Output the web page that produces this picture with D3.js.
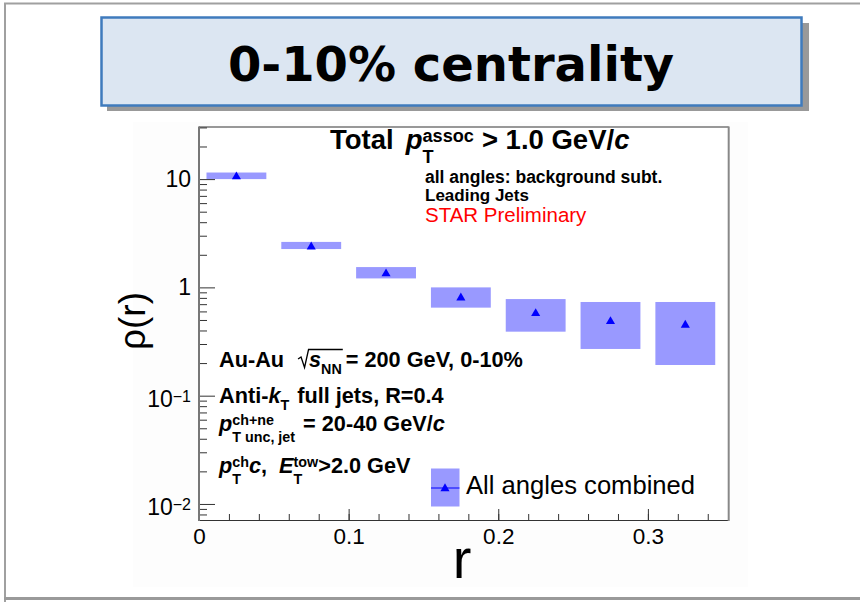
<!DOCTYPE html>
<html>
<head>
<meta charset="utf-8">
<script src="https://cdn.jsdelivr.net/npm/d3@7/dist/d3.min.js"></script>
<style>
  html, body { margin: 0; padding: 0; background: #fff; }
  svg { display: block; }
  text { font-family: "Liberation Sans", Arial, Helvetica, sans-serif; }
</style>
</head>
<body>
<svg id="chart" width="860" height="602"></svg>
<script>
// Jet shape rho(r), 0-10% central Au-Au, all angles combined
const rCenters   = [0.025, 0.075, 0.125, 0.175, 0.225, 0.275, 0.325];
const rhoValues  = [10.7, 2.41, 1.36, 0.815, 0.584, 0.493, 0.456];
const sysLow     = [10.0, 2.26, 1.21, 0.65, 0.39, 0.27, 0.192];
const sysHigh    = [11.5, 2.63, 1.54, 1.00, 0.78, 0.733, 0.733];
const sysHalfWidth = 0.02;

const xTicks = [0, 0.1, 0.2, 0.3];
const xTickLabels = ["0", "0.1", "0.2", "0.3"];
const yTicks = [0.01, 0.1, 1, 10];
const yTickLabels = [["10", "\u22122"], ["10", "\u22121"], ["1", ""], ["10", ""]];

const svg = d3.select("#chart");

// canvas border
svg.append("path").attr("d", "M5,602 L5,3.5 L862,3.5")
  .attr("fill", "none").attr("stroke", "#a0a0a0").attr("stroke-width", 2);
svg.append("line").attr("x1", 4).attr("x2", 862).attr("y1", 598.5).attr("y2", 598.5)
  .attr("stroke", "#9a9a9a").attr("stroke-width", 3);

// title banner with drop shadow
svg.append("rect").attr("x", 107).attr("y", 23).attr("width", 702).attr("height", 88)
  .attr("fill", "#999");
svg.append("rect").attr("x", 101.5).attr("y", 17.5).attr("width", 700).attr("height", 88)
  .attr("fill", "#dce6f2").attr("stroke", "#3f7bbd").attr("stroke-width", 2.5);
svg.append("text").attr("x", 451).attr("y", 81).attr("text-anchor", "middle")
  .style("font-family", "'DejaVu Sans', Verdana, sans-serif")
  .style("font-weight", "bold").style("font-size", "48px").attr("fill", "#000")
  .text("0-10% centrality");

// pad background
svg.append("rect").attr("x", 133).attr("y", 122).attr("width", 615).attr("height", 465)
  .attr("fill", "#fdfdfd");

const x = d3.scaleLinear().domain([0, 0.354]).range([199, 728.7]);
const y = d3.scaleLog().domain([0.00711, 30.6]).range([520, 126.5]);

svg.append("rect").attr("x", x(0)).attr("y", y.range()[1])
  .attr("width", x.range()[1] - x(0)).attr("height", y.range()[0] - y.range()[1])
  .attr("fill", "#fff");

// systematic boxes
const pts = rCenters.map((r, i) => ({ r, v: rhoValues[i], lo: sysLow[i], hi: sysHigh[i] }));
svg.append("g").selectAll("rect").data(pts).join("rect")
  .attr("x", d => x(d.r - sysHalfWidth))
  .attr("width", d => x(d.r + sysHalfWidth) - x(d.r - sysHalfWidth))
  .attr("y", d => y(d.hi))
  .attr("height", d => y(d.lo) - y(d.hi))
  .attr("fill", "#9999ff");

// markers
const tri = d3.symbol().type(d3.symbolTriangle).size(36);
svg.append("g").selectAll("path").data(pts).join("path")
  .attr("transform", d => `translate(${x(d.r)},${y(d.v) + 0.8})`)
  .attr("d", tri).attr("fill", "#0000ff");

// axes
const axisColor = "#333";
const xMajor = d3.axisBottom(x).tickValues(xTicks).tickSize(-11).tickPadding(8)
  .tickFormat((d, i) => xTickLabels[i]);
const xMinor = d3.axisBottom(x).tickValues(d3.range(0, 0.35, 0.02)).tickSize(-6).tickFormat("");
const gx = svg.append("g").attr("transform", `translate(0,${y.range()[0]})`);
gx.call(xMinor);
gx.append("g").call(xMajor);
gx.selectAll(".domain").remove();
gx.selectAll("line").attr("stroke", axisColor);
gx.selectAll("text").attr("fill", "#000").style("font-size", "22.5px")
  .style("font-family", "'Liberation Sans', Arial, sans-serif");

const yMinorVals = [];
[0.001, 0.01, 0.1, 1, 10].forEach(dec => {
  for (let k = 2; k <= 9; k++) {
    const v = dec * k;
    if (v > y.domain()[0] && v < y.domain()[1]) yMinorVals.push(v);
  }
});
const yMajor = d3.axisLeft(y).tickValues(yTicks).tickSize(-16).tickFormat("");
const yMinor = d3.axisLeft(y).tickValues(yMinorVals).tickSize(-8).tickFormat("");
const gy = svg.append("g").attr("transform", `translate(${x(0)},0)`);
gy.call(yMinor);
gy.append("g").call(yMajor);
gy.selectAll(".domain").remove();
gy.selectAll("line").attr("stroke", axisColor);

// y tick labels with exponents
yTicks.forEach((v, i) => {
  const [base, exp] = yTickLabels[i];
  const t = svg.append("text").attr("text-anchor", "end")
    .attr("x", 191).attr("y", y(v) + (exp ? 11 : 8))
    .style("font-size", "23px").attr("fill", "#000");
  t.append("tspan").text(base);
  if (exp) t.append("tspan").attr("dy", -4.5).style("font-size", "16px").text(exp);
});

// frame
const fx0 = x(0), fx1 = x.range()[1], fy0 = y.range()[1], fy1 = y.range()[0];
svg.append("line").attr("x1", fx0).attr("x2", fx1).attr("y1", fy0 + 0.5).attr("y2", fy0 + 0.5)
  .attr("stroke", "#333");
svg.append("line").attr("x1", fx0).attr("x2", fx1).attr("y1", fy1 + 0.5).attr("y2", fy1 + 0.5)
  .attr("stroke", "#333");
svg.append("line").attr("x1", fx0).attr("x2", fx0).attr("y1", fy0).attr("y2", fy1 + 1)
  .attr("stroke", "#777").attr("stroke-width", 2);
svg.append("line").attr("x1", fx1).attr("x2", fx1).attr("y1", fy0).attr("y2", fy1 + 1)
  .attr("stroke", "#888").attr("stroke-width", 2);

// axis titles
svg.append("text").attr("transform", "translate(145,321) rotate(-90)")
  .attr("text-anchor", "middle").style("font-size", "37px").text("\u03c1(r)");
svg.append("text").attr("x", 462).attr("y", 578).attr("text-anchor", "middle")
  .style("font-size", "56px").text("r");

// Latex-like text: runs laid out left to right, each measured after drawing.
// item forms: "txt" | {t, it} | {sub} | {sup} | {sup, sub} (stacked) | {gap}
function latex(x0, y0, size, weight, items, fill) {
  let cx = x0;
  const ss = size * 0.66;
  const one = (xx, yy, sz, txt, it) => {
    const t = svg.append("text").attr("x", xx).attr("y", yy)
      .style("font-size", sz + "px").style("font-weight", weight)
      .style("font-style", it ? "italic" : "normal")
      .attr("fill", fill || "#000").style("white-space", "pre").text(txt);
    return t.node().getComputedTextLength();
  };
  items.forEach(item => {
    if (typeof item === "string") { cx += one(cx, y0, size, item, false); return; }
    if (item.gap !== undefined) { cx += item.gap; return; }
    if (item.t !== undefined) { cx += one(cx, y0, size, item.t, item.it); return; }
    let w = 0;
    if (item.sup !== undefined) w = Math.max(w, one(cx, y0 - size * 0.27, ss, item.sup, false));
    if (item.sub !== undefined) {
      const dy = item.sup !== undefined ? size * 0.52 : size * 0.3;
      w = Math.max(w, one(cx, y0 + dy, ss, item.sub, false));
    }
    cx += w;
  });
  return cx;
}

// header annotation
latex(330, 149, 27.5, "bold", ["Total", { gap: 12 }, { t: "p", it: true }, { sup: "assoc", sub: "T" },
  { gap: 8 }, "> 1.0 GeV/", { t: "c", it: true }]);
latex(425, 183, 17.5, "bold", ["all angles: background subt."]);
latex(425, 200.5, 17, "bold", ["Leading Jets"]);
latex(425, 222, 20.5, "normal", ["STAR Preliminary"], "#ff0000");

// collision / jet selection annotations
const L = 21.7;
const sqrtStart = latex(219, 367, L, "bold", ["Au-Au", { gap: 14 }]);
const sqrtEnd = latex(sqrtStart + 11, 367, L, "bold", [{ t: "s", it: true }, { sub: "NN" }]);
svg.append("path")
  .attr("d", `M${sqrtStart},359 L${sqrtStart + 3},357 L${sqrtStart + 6.5},367.5 L${sqrtStart + 10.5},349.5 L${sqrtEnd + 1},349.5`)
  .attr("fill", "none").attr("stroke", "#000").attr("stroke-width", 1.3);
latex(sqrtEnd + 4, 367, L, "bold", ["= 200 GeV, 0-10%"]);

latex(219, 403, L, "bold", ["Anti-", { t: "k", it: true }, { sub: "T" }, { gap: 2 }, " full jets, R=0.4"]);
latex(219, 431, L, "bold", [{ t: "p", it: true }, { sup: "ch+ne", sub: "T unc, jet" }, { gap: 2 }, " = 20-40 GeV/", { t: "c", it: true }]);
latex(219, 473, L, "bold", [{ t: "p", it: true }, { sup: "ch", sub: "T" }, { t: "c", it: true }, ",  ",
  { t: "E", it: true }, { sup: "tow", sub: "T" }, ">2.0 GeV"]);

// legend
const lg = svg.append("g");
lg.append("rect").attr("x", 431).attr("y", 468.5).attr("width", 28.5).attr("height", 38)
  .attr("fill", "#9999ff");
lg.append("line").attr("x1", 431).attr("x2", 459.5).attr("y1", 488).attr("y2", 488)
  .attr("stroke", "#0000ff").attr("stroke-width", 1);
lg.append("path").attr("transform", "translate(445,488.5)").attr("d", tri).attr("fill", "#0000ff");
latex(466, 494, 25.6, "normal", ["All angles combined"]);
</script>
</body>
</html>
